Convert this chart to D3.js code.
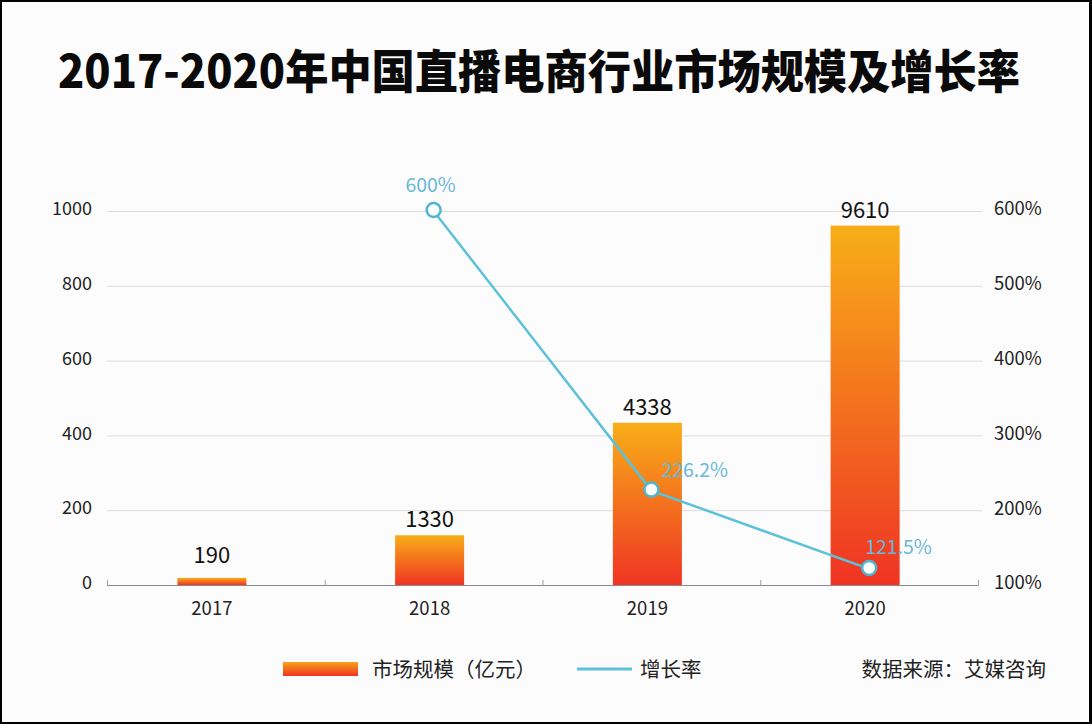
<!DOCTYPE html>
<html>
<head>
<meta charset="utf-8">
<script src="https://cdn.jsdelivr.net/npm/d3@7"></script>
<style>
  html, body { margin: 0; padding: 0; background: #ffffff; }
  svg { display: block; }
  text { font-family: "Noto Sans CJK SC", "Noto Sans", sans-serif; }
</style>
</head>
<body>
<script>
// ---- data ----
const titleText = "2017-2020年中国直播电商行业市场规模及增长率";
const years = ["2017", "2018", "2019", "2020"];
const marketSize = [190, 1330, 4338, 9610];          // 亿元
const growthYears = ["2018", "2019", "2020"];
const growthRate = [600, 226.2, 121.5];               // %
const growthLabels = ["600%", "226.2%", "121.5%"];
const leftTickValues = [0, 2000, 4000, 6000, 8000, 10000];
const leftTickLabels = ["0", "200", "400", "600", "800", "1000"];
const rightTickValues = [100, 200, 300, 400, 500, 600];
const rightTickLabels = ["100%", "200%", "300%", "400%", "500%", "600%"];
const legendBar = "市场规模（亿元）";
const legendLine = "增长率";
const sourceText = "数据来源：艾媒咨询";

// ---- layout ----
const W = 1092, H = 724;
const svg = d3.select("body").append("svg").attr("width", W).attr("height", H);
const numFont = "'Noto Sans', 'Open Sans', sans-serif";

const defs = svg.append("defs");
const grad = defs.append("linearGradient").attr("id", "barGrad")
  .attr("x1", 0).attr("y1", 0).attr("x2", 0).attr("y2", 1);
grad.append("stop").attr("offset", "0%").attr("stop-color", "#f8ae18");
grad.append("stop").attr("offset", "100%").attr("stop-color", "#ef3424");
const gradH = defs.append("linearGradient").attr("id", "legGrad")
  .attr("x1", 0).attr("y1", 0).attr("x2", 0).attr("y2", 1);
gradH.append("stop").attr("offset", "0%").attr("stop-color", "#f8a21a");
gradH.append("stop").attr("offset", "100%").attr("stop-color", "#ef3424");

// background + frame
svg.append("rect").attr("x", 0).attr("y", 0).attr("width", W).attr("height", H).attr("fill", "#000");
svg.append("rect").attr("x", 2).attr("y", 2).attr("width", W - 5).attr("height", H - 4).attr("fill", "#fdfcfd");

// title
const title = svg.append("text")
  .attr("x", 539).attr("y", 88)
  .attr("text-anchor", "middle")
  .attr("font-size", 46).attr("font-weight", 900).attr("fill", "#0a0a0a")
  .text(titleText);
if (title.node().getComputedTextLength() > 0)
  title.attr("textLength", 962).attr("lengthAdjust", "spacingAndGlyphs");

const x0 = 107, x1 = 978, yTop = 211, yBot = 585;

const x = d3.scaleBand().domain(years).range([x0 - 4, x1 - 4])
  .paddingInner(0.683).paddingOuter(0.3415);
const yL = d3.scaleLinear().domain([0, 10000]).range([yBot, yTop]);
const yR = d3.scaleLinear().domain([100, 600]).range([yBot, yTop]);

// gridlines
svg.append("g").selectAll("line").data(leftTickValues.slice(1)).join("line")
  .attr("x1", x0).attr("x2", 982)
  .attr("y1", d => yL(d) + 0.5).attr("y2", d => yL(d) + 0.5)
  .attr("stroke", "#dcdcdc").attr("stroke-width", 1);

// left axis labels
const leftAxis = d3.axisLeft(yL).tickValues(leftTickValues)
  .tickFormat((d, i) => leftTickLabels[i]).tickSize(0).tickPadding(0);
const gL = svg.append("g").attr("transform", `translate(92,-2)`).call(leftAxis);
gL.select(".domain").remove();
gL.selectAll("text").attr("font-size", 18).attr("fill", "#222")
  .attr("font-family", numFont).attr("dy", "0.32em");

// right axis labels
const rightAxis = d3.axisRight(yR).tickValues(rightTickValues)
  .tickFormat((d, i) => rightTickLabels[i]).tickSize(0).tickPadding(0);
const gR = svg.append("g").attr("transform", `translate(994,-2)`).call(rightAxis);
gR.select(".domain").remove();
gR.selectAll("text").attr("font-size", 18.5).attr("fill", "#222")
  .attr("font-family", numFont).attr("dy", "0.32em");

// bars
svg.append("g").selectAll("rect").data(years).join("rect")
  .attr("x", d => x(d))
  .attr("width", x.bandwidth())
  .attr("y", (d, i) => yL(marketSize[i]))
  .attr("height", (d, i) => yBot - yL(marketSize[i]))
  .attr("fill", "url(#barGrad)");

// bar value labels
svg.append("g").selectAll("text").data(years).join("text")
  .attr("x", d => x(d) + x.bandwidth() / 2)
  .attr("y", (d, i) => Math.min(yL(marketSize[i]) - 8, 563))
  .attr("text-anchor", "middle")
  .attr("font-size", 22).attr("fill", "#111")
  .attr("font-family", numFont)
  .text((d, i) => marketSize[i]);

// category axis
const bottomAxis = d3.axisBottom(x).tickSize(0).tickPadding(0);
const gB = svg.append("g").attr("transform", `translate(0,${yBot})`).call(bottomAxis);
gB.select(".domain").remove();
gB.selectAll("text").attr("font-size", 18.5).attr("fill", "#222")
  .attr("font-family", numFont)
  .attr("y", 30).attr("dy", 0);
svg.append("line").attr("x1", x0).attr("x2", x1).attr("y1", yBot + 0.5).attr("y2", yBot + 0.5)
  .attr("stroke", "#8a8a8a").attr("stroke-width", 1);
const bounds = [x0].concat(years.map(d => x(d) + x.bandwidth() / 2 + x.step() / 2 + 4));
svg.append("g").selectAll("line").data(bounds).join("line")
  .attr("x1", d => Math.min(d, x1) + 0.5).attr("x2", d => Math.min(d, x1) + 0.5)
  .attr("y1", yBot - 5).attr("y2", yBot + 0.5)
  .attr("stroke", "#a0a0a0").attr("stroke-width", 1);

// growth line
const cx = d => x(d) + x.bandwidth() / 2 + 4;
const line = d3.line().x((d, i) => cx(growthYears[i])).y(d => yR(d));
svg.append("path").datum(growthRate).attr("d", line)
  .attr("fill", "none").attr("stroke", "#5cc1da").attr("stroke-width", 2.5);
svg.append("g").selectAll("circle").data(growthRate).join("circle")
  .attr("cx", (d, i) => cx(growthYears[i])).attr("cy", d => yR(d) - 1).attr("r", 7)
  .attr("fill", "#ffffff").attr("stroke", "#4fb6d0").attr("stroke-width", 2.5);

// growth labels
const labelOffsets = [[-3, -19, "middle"], [10, -14, "start"], [-4, -15, "start"]];
svg.append("g").selectAll("text").data(growthRate).join("text")
  .attr("x", (d, i) => cx(growthYears[i]) + labelOffsets[i][0])
  .attr("y", (d, i) => yR(d) + labelOffsets[i][1])
  .attr("text-anchor", (d, i) => labelOffsets[i][2])
  .attr("font-size", 19.5).attr("fill", "#68b8d6")
  .attr("font-family", numFont)
  .text((d, i) => growthLabels[i]);

// legend
svg.append("rect").attr("x", 283).attr("y", 662).attr("width", 75).attr("height", 14)
  .attr("fill", "url(#legGrad)");
svg.append("text").attr("x", 372).attr("y", 677).attr("font-size", 20.5).attr("fill", "#222")
  .text(legendBar);
svg.append("line").attr("x1", 577).attr("x2", 632).attr("y1", 669).attr("y2", 669)
  .attr("stroke", "#5cc1da").attr("stroke-width", 3);
svg.append("text").attr("x", 640).attr("y", 677).attr("font-size", 20.5).attr("fill", "#222")
  .text(legendLine);
svg.append("text").attr("x", 1046).attr("y", 677).attr("text-anchor", "end")
  .attr("font-size", 20.5).attr("fill", "#222")
  .text(sourceText);
</script>
</body>
</html>
